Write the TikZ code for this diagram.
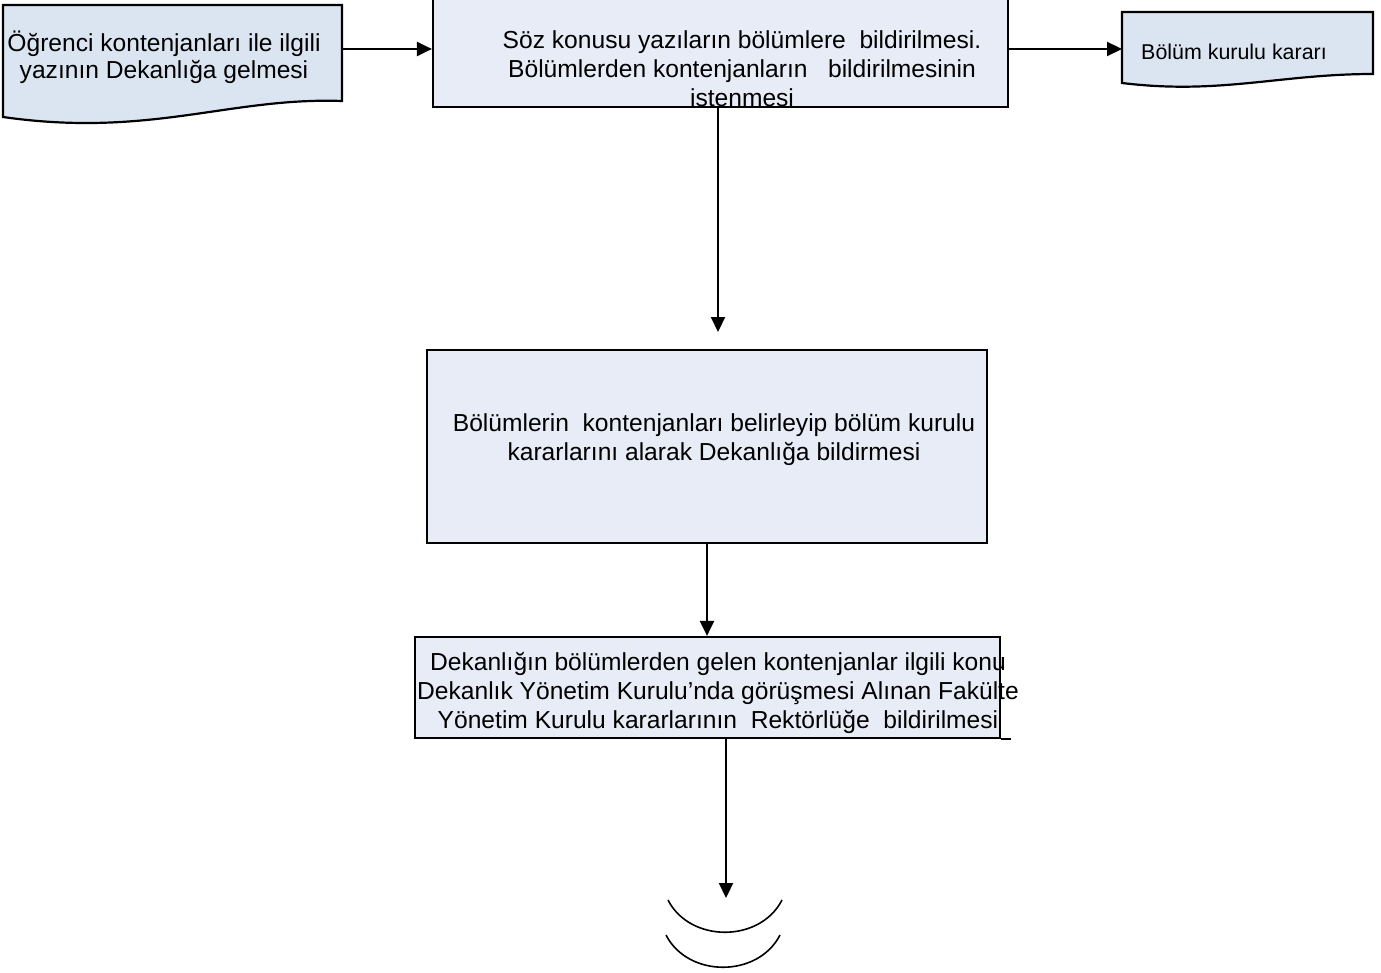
\documentclass[tikz,border=0pt]{standalone}
\usepackage{fontspec}
\setmainfont{Liberation Sans}
\usetikzlibrary{arrows.meta}
\definecolor{belgemavi}{HTML}{DBE5F1}
\definecolor{kutumavi}{HTML}{E8ECF7}
\begin{document}
\begin{tikzpicture}[x=0.5pt,y=-0.5pt,
    ok/.style={line width=1.1pt,-{Triangle[length=7.5pt,width=7pt]}},
    kutu/.style={draw,line width=1.1pt,fill=kutumavi,inner sep=0pt},
    yazi/.style={align=center,inner sep=0pt,font=\fontsize{12.3}{14.5}\selectfont}]
                    \useasboundingbox (0,0) rectangle (1381,973);

                    \draw[line width=1.1pt,fill=belgemavi] (3,5) -- (342,5) -- (342,101)
                        .. controls (230,97) and (150,138) .. (3,117) -- cycle;
                    \draw[line width=1.1pt,fill=belgemavi] (1122,12) -- (1373,12) -- (1373,74)
                        .. controls (1280,74) and (1220,95) .. (1122,83) -- cycle;

                    \node[kutu,minimum width=287.5pt,minimum height=57pt] (ust) at (720.5,50) {};
                    \node[kutu,minimum width=280pt,minimum height=96.5pt] (orta) at (707,446.5) {};
                    \node[kutu,minimum width=292.5pt,minimum height=50.5pt] (alt) at (707.5,687.5) {};
                    \draw[line width=1.1pt] (alt.south east) -- ++(10,0);

                    \node[yazi,font=\fontsize{12.3}{13.5}\selectfont] (giris) at (164,57) {Öğrenci kontenjanları ile ilgili\\yazının Dekanlığa gelmesi};
                    \node[yazi,font=\fontsize{10.7}{12}\selectfont] (karar) at (1234,52) {Bölüm kurulu kararı};
                    \node[yazi] (ustyazi) at (742,69) {Söz konusu yazıların bölümlere\ \ bildirilmesi.\\Bölümlerden kontenjanların\ \ \ bildirilmesinin\\istenmesi};
                    \node[yazi] (ortayazi) at (714,440) {Bölümlerin\ \ kontenjanları belirleyip bölüm kurulu\\kararlarını alarak Dekanlığa bildirmesi};
                    \node[yazi] (altyazi) at (718,693) {Dekanlığın bölümlerden gelen kontenjanlar ilgili konu\\Dekanlık Yönetim Kurulu’nda görüşmesi Alınan Fakülte\\Yönetim Kurulu kararlarının\ \ Rektörlüğe\ \ bildirilmesi};

                    \coordinate (girisSag) at (342,49);
                    \coordinate (kararSol) at (1122,49);
                    \coordinate (ortaUst) at (718,332);
                    \coordinate (son) at (726,898);

                    \draw[ok] (girisSag) -- (ust.west |- girisSag);
                    \draw[ok] (ust.east |- kararSol) -- (kararSol);
                    \draw[ok] (ust.south -| ortaUst) -- (ortaUst);
                    \draw[ok] (orta.south) -- (orta.south |- alt.north);
                    \draw[ok] (alt.south -| son) -- (son);

                    \draw[line width=0.8pt] (668,900) .. controls (690,943) and (760,943) .. (782,900);
                    \draw[line width=0.8pt] (666,935) .. controls (688,978) and (758,978) .. (780,935);
                \end{tikzpicture}
\end{document}
